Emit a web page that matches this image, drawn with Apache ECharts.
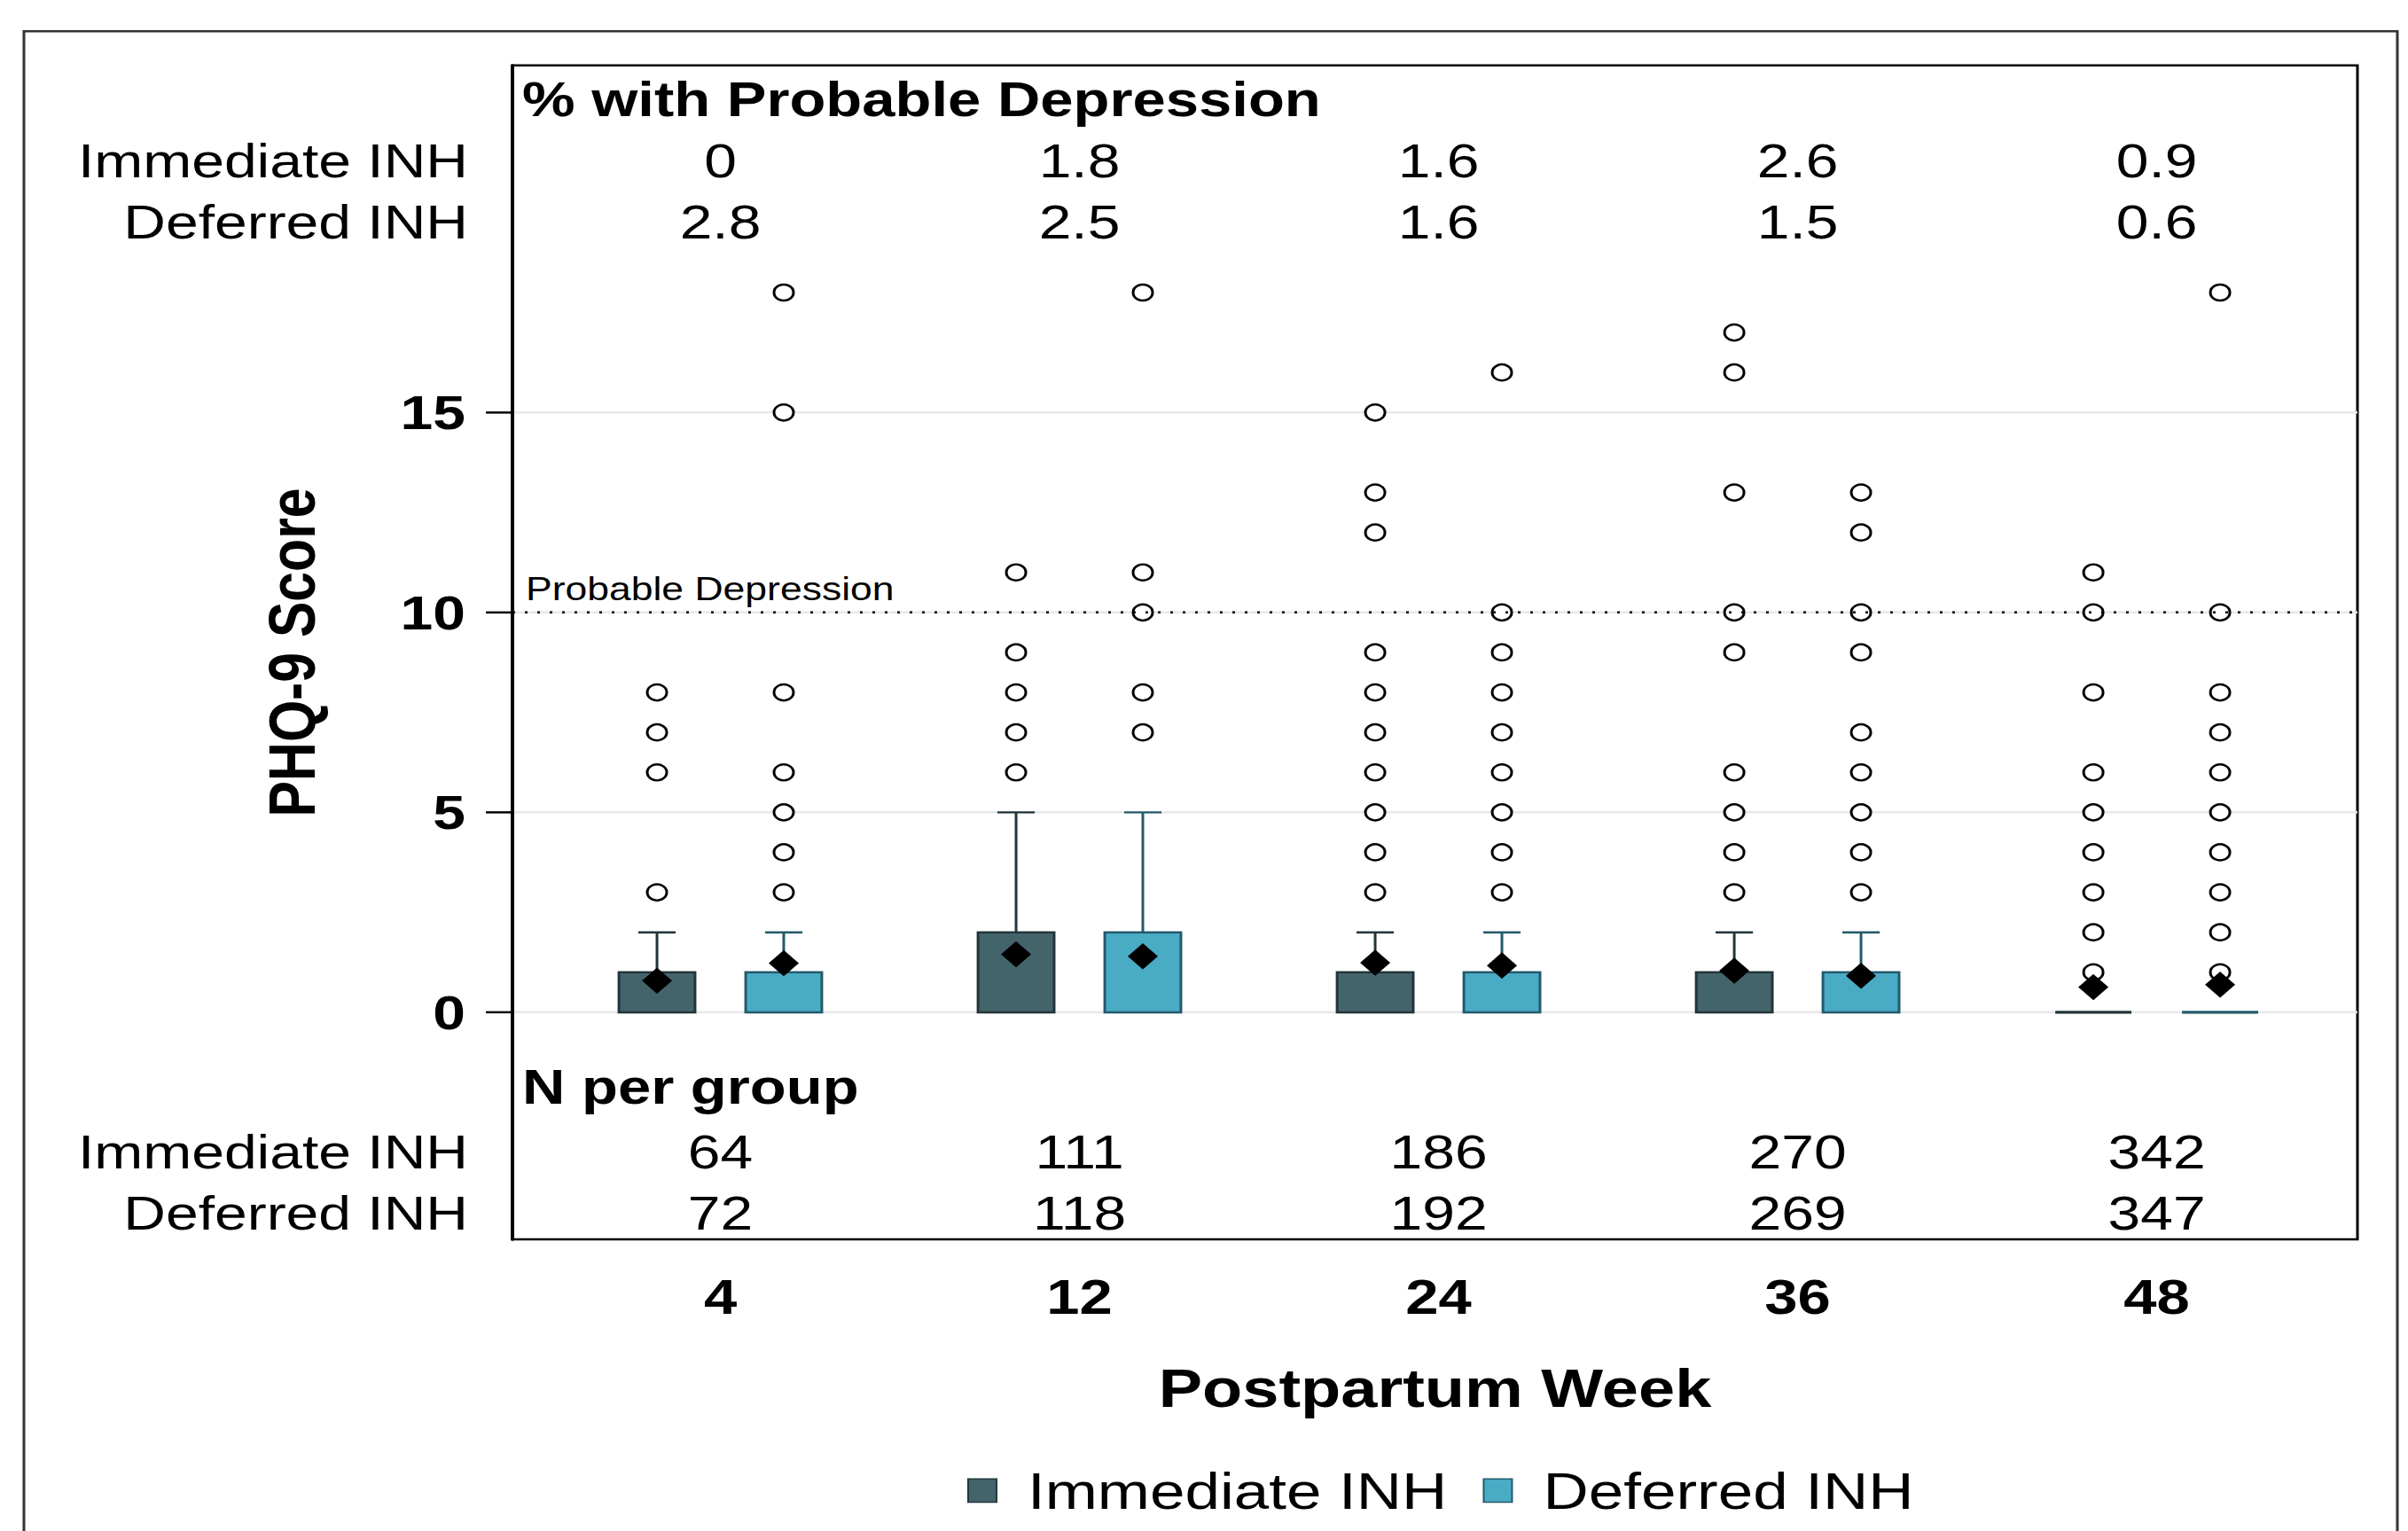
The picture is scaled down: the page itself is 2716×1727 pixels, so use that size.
<!DOCTYPE html>
<html>
<head>
<meta charset="utf-8">
<script src="https://cdn.jsdelivr.net/npm/echarts@6/dist/echarts.min.js"></script>
<style>
  html, body { margin: 0; padding: 0; background: #fff; overflow: hidden; }
  #wrap { width: 2716px; height: 1727px; overflow: hidden; }
  /* the source figure is squeezed vertically, so draw tall and squeeze */
  #chart { width: 2716px; height: 2106px; transform: scaleY(0.82); transform-origin: 0 0; }
</style>
</head>
<body>
<div id="wrap"><div id="chart"></div></div>
<script>
// ---- data ----
var WEEKS = [4, 12, 24, 36, 48];
var GROUPS = ['Immediate INH', 'Deferred INH'];

var PCT_IMMEDIATE = ['0', '1.8', '1.6', '2.6', '0.9'];
var PCT_DEFERRED = ['2.8', '2.5', '1.6', '1.5', '0.6'];
var N_IMMEDIATE = [64, 111, 186, 270, 342];
var N_DEFERRED = [72, 118, 192, 269, 347];

// box = Q1..Q3, whisker up to WHISK
var Q1_IMMEDIATE = [0, 0, 0, 0, 0];
var Q3_IMMEDIATE = [1, 2, 1, 1, 0];
var WHISK_IMMEDIATE = [2, 5, 2, 2, 0];
var MEAN_IMMEDIATE = [0.79, 1.45, 1.24, 1.04, 0.63];

var Q1_DEFERRED = [0, 0, 0, 0, 0];
var Q3_DEFERRED = [1, 2, 1, 1, 0];
var WHISK_DEFERRED = [2, 5, 2, 2, 0];
var MEAN_DEFERRED = [1.23, 1.40, 1.17, 0.91, 0.69];

var OUT_IMMEDIATE = [
  [3, 6, 7, 8],
  [6, 7, 8, 9, 11],
  [3, 4, 5, 6, 7, 8, 9, 12, 13, 15],
  [3, 4, 5, 6, 9, 10, 13, 16, 17],
  [1, 2, 3, 4, 5, 6, 8, 10, 11]
];
var OUT_DEFERRED = [
  [3, 4, 5, 6, 8, 15, 18],
  [7, 8, 10, 11, 18],
  [3, 4, 5, 6, 7, 8, 9, 10, 16],
  [3, 4, 5, 6, 7, 9, 10, 12, 13],
  [1, 2, 3, 4, 5, 6, 7, 8, 10, 18]
];

var Y_TICKS = [0, 5, 10, 15];
var CUTOFF = 10;

// ---- layout ----
var FONT = '"Liberation Sans", Arial, Helvetica, sans-serif';
var X_MIN = -0.579, X_MAX = 4.559;
var Y_MIN = -5.68, Y_MAX = 23.68;
var SHIFT = 0.1765;      // group offset from week centre
var BAR_W = 0.212;       // box width (x units)
var CAP_W = 0.104;       // whisker cap width
var COL = {
  imm: { fill: '#44646b', edge: '#22353a' },
  def: { fill: '#4aabc5', edge: '#235a6b' }
};
var LVL = { pctHead: 22.82, pctImm: 21.29, pctDef: 19.76, nHead: -1.86, nImm: -3.48, nDef: -5.01 };

function boxData(q1, q3, wh, sh) {
  return q1.map(function (v, i) { return [i + sh, v, q3[i], wh[i]]; });
}
function pointData(vals, sh) {
  return vals.map(function (v, i) { return [i + sh, v]; });
}
function outlierData(lists, sh) {
  var out = [];
  lists.forEach(function (l, i) { l.forEach(function (v) { out.push([i + sh, v]); }); });
  return out;
}

function boxRenderer(col) {
  return function (params, api) {
    var x = api.value(0);
    var pLo = api.coord([x, api.value(1)]);
    var pHi = api.coord([x, api.value(2)]);
    var pW = api.coord([x, api.value(3)]);
    var hw = api.size([BAR_W, 0])[0] / 2;
    var cw = api.size([CAP_W, 0])[0] / 2;
    var kids = [];
    if (pLo[1] - pHi[1] > 1) {
      kids.push({ type: 'rect', shape: { x: pLo[0] - hw, y: pHi[1], width: hw * 2, height: pLo[1] - pHi[1] },
        style: { fill: col.fill, stroke: col.edge, lineWidth: 3 } });
    } else {
      kids.push({ type: 'line', shape: { x1: pLo[0] - hw, y1: pLo[1], x2: pLo[0] + hw, y2: pLo[1] },
        style: { stroke: col.edge, lineWidth: 4 } });
    }
    if (pW[1] < pHi[1] - 1) {
      kids.push({ type: 'line', shape: { x1: pHi[0], y1: pHi[1], x2: pW[0], y2: pW[1] },
        style: { stroke: col.edge, lineWidth: 3 } });
      kids.push({ type: 'line', shape: { x1: pW[0] - cw, y1: pW[1], x2: pW[0] + cw, y2: pW[1] },
        style: { stroke: col.edge, lineWidth: 3 } });
    }
    return { type: 'group', children: kids };
  };
}

// table of text rows (percent / N per group)
var tableData = [];
var TXT = { color: '#000', textBorderWidth: 0, opacity: 1 };
function addHead(text, lvl) {
  tableData.push({ value: [X_MIN, lvl], label: Object.assign({ position: 'right', distance: 11, fontWeight: 'bold', fontSize: 67, formatter: text }, TXT) });
}
function addRow(name, vals, lvl) {
  tableData.push({ value: [X_MIN, lvl], label: Object.assign({ position: 'left', distance: 50, formatter: name }, TXT) });
  vals.forEach(function (v, i) {
    tableData.push({ value: [i, lvl], label: Object.assign({ formatter: String(v) }, TXT) });
  });
}
addHead('% with Probable Depression', LVL.pctHead);
addRow(GROUPS[0], PCT_IMMEDIATE, LVL.pctImm);
addRow(GROUPS[1], PCT_DEFERRED, LVL.pctDef);
addHead('N per group', LVL.nHead);
addRow(GROUPS[0], N_IMMEDIATE, LVL.nImm);
addRow(GROUPS[1], N_DEFERRED, LVL.nDef);

var chart = echarts.init(document.getElementById('chart'), null, { renderer: 'svg' });

var option = {
  animation: false,
  backgroundColor: '#fff',
  textStyle: { fontFamily: FONT },
  graphic: [{
    type: 'rect', silent: true, z: -10,
    shape: { x: 27, y: 43, width: 2677, height: 2200 },
    style: { fill: 'none', stroke: '#333', lineWidth: 3 }
  }],
  grid: {
    left: 578, right: 57, top: 90, bottom: 401,
    show: true, borderColor: '#000', borderWidth: 3, backgroundColor: 'transparent',
    outerBoundsMode: 'none'
  },
  legend: {
    data: GROUPS,
    left: 1086, top: 2010,
    icon: 'rect', itemWidth: 32, itemHeight: 32, itemGap: 40,
    textStyle: { fontFamily: FONT, fontSize: 71, color: '#000', padding: [0, 0, 0, 30] }
  },
  xAxis: {
    type: 'value', min: X_MIN, max: X_MAX,
    axisLine: { show: false, onZero: false }, axisTick: { show: false }, splitLine: { show: false },
    axisLabel: {
      customValues: [0, 1, 2, 3, 4],
      formatter: function (v) { return String(WEEKS[Math.round(v)]); },
      fontFamily: FONT, fontSize: 67, fontWeight: 'bold', color: '#000', margin: 46
    },
    name: 'Postpartum Week', nameLocation: 'middle', nameGap: 168,
    nameTextStyle: { fontFamily: FONT, fontSize: 74, fontWeight: 'bold', color: '#000' }
  },
  yAxis: {
    type: 'value', min: Y_MIN, max: Y_MAX,
    axisLine: { show: true, onZero: false, lineStyle: { color: '#000', width: 4 } },
    axisTick: { show: true, customValues: Y_TICKS, length: 30, lineStyle: { color: '#000', width: 3 } },
    axisLabel: { customValues: Y_TICKS, fontFamily: FONT, fontSize: 66, fontWeight: 'bold', color: '#000', margin: 53 },
    splitLine: { show: true, lineStyle: { color: '#e8e8e8', width: 3 } },
    name: 'PHQ-9 Score', nameLocation: 'middle', nameGap: 212,
    nameTextStyle: { fontFamily: FONT, fontSize: 74, fontWeight: 'bold', color: '#000' }
  },
  series: [
    {
      name: GROUPS[0], type: 'custom', z: 2,
      itemStyle: { color: COL.imm.fill, borderColor: COL.imm.edge, borderWidth: 3 },
      renderItem: boxRenderer(COL.imm),
      data: boxData(Q1_IMMEDIATE, Q3_IMMEDIATE, WHISK_IMMEDIATE, -SHIFT),
      markLine: {
        silent: true, symbol: 'none',
        lineStyle: { color: '#000', width: 3, type: [3, 11], opacity: 1 },
        label: { show: true, position: 'insideStartTop', distance: [15, 10], formatter: 'Probable Depression',
          fontFamily: FONT, fontSize: 44.5, color: '#000' },
        data: [{ yAxis: CUTOFF }]
      }
    },
    {
      name: GROUPS[1], type: 'custom', z: 2,
      itemStyle: { color: COL.def.fill, borderColor: COL.def.edge, borderWidth: 3 },
      renderItem: boxRenderer(COL.def),
      data: boxData(Q1_DEFERRED, Q3_DEFERRED, WHISK_DEFERRED, SHIFT)
    },
    {
      type: 'scatter', z: 3, clip: false, silent: true,
      symbol: 'circle', symbolSize: 22,
      itemStyle: { color: '#fff', borderColor: '#000', borderWidth: 3, opacity: 1 },
      data: outlierData(OUT_IMMEDIATE, -SHIFT).concat(outlierData(OUT_DEFERRED, SHIFT))
    },
    {
      type: 'scatter', z: 4, clip: false, silent: true,
      symbol: 'diamond', symbolSize: [34, 36],
      itemStyle: { color: '#000', opacity: 1 },
      data: pointData(MEAN_IMMEDIATE, -SHIFT).concat(pointData(MEAN_DEFERRED, SHIFT))
    },
    {
      type: 'scatter', z: 5, clip: false, silent: true,
      symbolSize: 0,
      itemStyle: { color: 'transparent', opacity: 1 },
      label: { show: true, position: 'inside', fontFamily: FONT, fontSize: 66, color: '#000' },
      data: tableData
    }
  ]
};
chart.setOption(option);
</script>
</body>
</html>
